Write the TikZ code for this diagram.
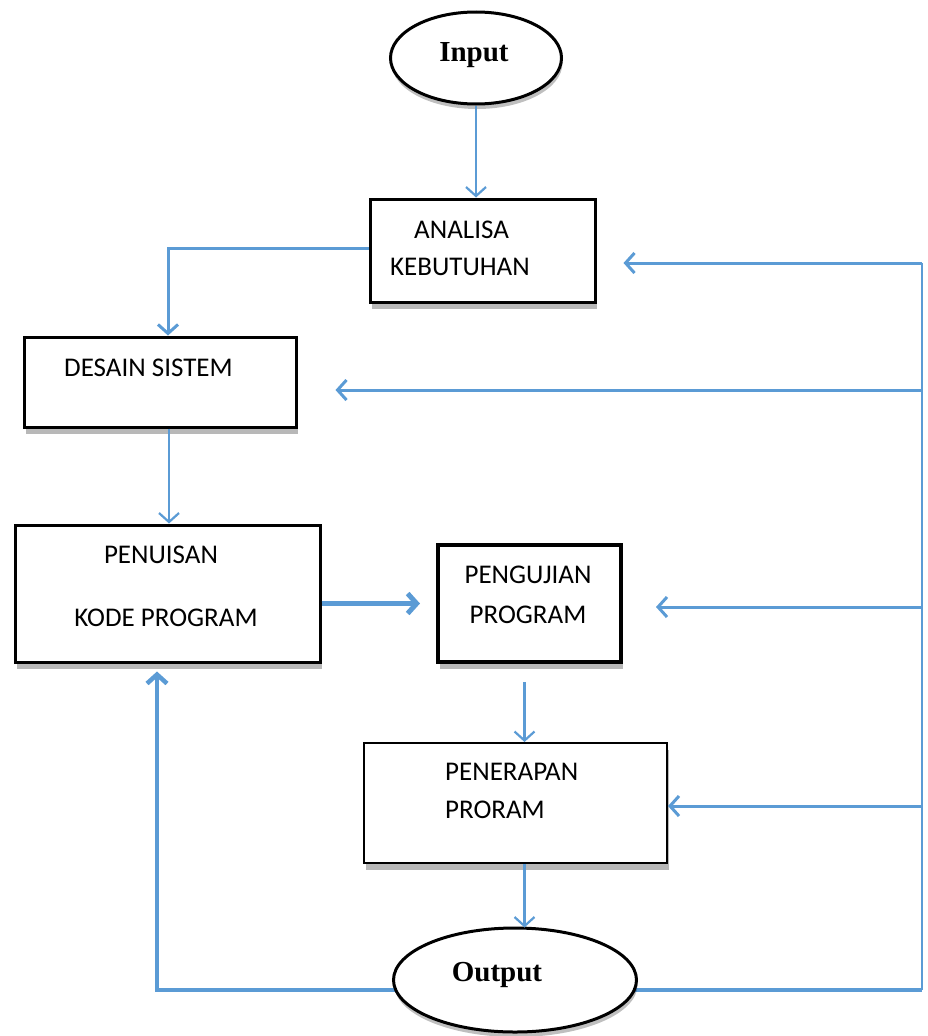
\documentclass[tikz,border=0pt]{standalone}
\usepackage{fontspec}
\setmainfont{Carlito}
\newfontfamily\serifbold{Liberation Serif}
\usetikzlibrary{arrows.meta,shapes.geometric,shadows,backgrounds}
\definecolor{flowblue}{RGB}{91,155,213}
\begin{document}
\begin{tikzpicture}[x=1pt,y=-1pt,
  boxtext/.style={inner sep=0pt,font=\fontsize{27}{30}\selectfont},
  termtext/.style={inner sep=0pt,font=\serifbold\bfseries\fontsize{29}{32}\selectfont},
  procbox/.style={draw=black,line width=3pt,fill=white,rectangle,inner sep=0pt,
     drop shadow={shadow xshift=2pt,shadow yshift=-7pt,opacity=0.28,fill=black}},
  termnode/.style={draw=black,line width=3pt,fill=white,ellipse,inner sep=0pt,
     drop shadow={shadow xshift=1pt,shadow yshift=-5pt,opacity=0.25,fill=black}},
  tip/.style={-{Straight Barb[length=9pt,width=20pt]}},
  arr/.style={draw=flowblue,line width=2.2pt,tip},
  midarr/.style={draw=flowblue,line width=3pt,tip},
  thickarr/.style={draw=flowblue,line width=5pt,tip},
  loopline/.style={draw=flowblue,line width=4.5pt},
  sideline/.style={draw=flowblue,line width=2.5pt}
]
\useasboundingbox (0,0) rectangle (928,1036);

% terminals
\node[termnode,minimum width=171pt,minimum height=92pt] (in) at (476,58) {};
\node[termtext] (intext) at (474,55) {Input};

% process boxes
\node[procbox,minimum width=225pt,minimum height=103pt] (ana) at (482.5,250.5) {};
\node[procbox,minimum width=272pt,minimum height=90pt] (des) at (160,382) {};
\node[procbox,minimum width=305pt,minimum height=137pt] (pen) at (167.5,593.5) {};
\node[procbox,line width=4pt,minimum width=183pt,minimum height=117pt] (uji) at (529.5,603.5) {};
\node[procbox,line width=2pt,minimum width=303pt,minimum height=120pt] (ter) at (515.5,803) {};

\node[termnode,minimum width=243pt,minimum height=104pt] (out) at (515,980) {};
\node[termtext] (outtext) at (497,975) {Output};

% texts
\node[boxtext,anchor=west] (t1) at (414,230) {ANALISA};
\node[boxtext,anchor=west] (t2) at (390,267) {KEBUTUHAN};
\node[boxtext,anchor=west] (t3) at (64,368) {DESAIN SISTEM};
\node[boxtext] (t4) at (161,555) {PENUISAN};
\node[boxtext] (t5) at (166,618) {KODE PROGRAM};
\node[boxtext] (t6) at (528,575) {PENGUJIAN};
\node[boxtext] (t7) at (528,615) {PROGRAM};
\node[boxtext,anchor=west] (t8) at (445,772) {PENERAPAN};
\node[boxtext,anchor=west] (t9) at (445,810) {PRORAM};

% right-side feedback coordinates
\coordinate (r1) at (922,263);
\coordinate (r2) at (922,390);
\coordinate (r3) at (922,607);
\coordinate (r4) at (922,806);
\coordinate (r5) at (922,990);
\coordinate (l1) at (157,990);

% loop lines behind the output ellipse
\begin{scope}[on background layer]
  \draw[loopline] (out.center |- r5) -- (r5);
  \draw[sideline] (r5) -- (r1);
  \draw[loopline,tip,shorten >=8pt] (out.center |- l1) -- (l1) -- (l1 |- pen.south);
\end{scope}

% main flow
\draw[arr] (in.south) -- (in.south |- ana.north);
\draw[midarr] ([yshift=2pt]ana.west) -| ([xshift=8pt]des.north);
\draw[arr] ([xshift=9pt]des.south) -- ([xshift=9pt]des.south |- pen.north);
\draw[thickarr,shorten >=16pt] (pen.east |- uji.west) -- (uji.west);
\draw[arr,shorten <=18pt] ([xshift=-5pt]uji.south) -- ([xshift=-5pt]uji.south |- ter.north);
\draw[arr] ([xshift=9pt]ter.south) -- ([xshift=9pt,yshift=-1pt]ter.south |- out.north);

% feedback arrows from the right
\draw[midarr,shorten >=27pt] (r1) -- (r1 -| ana.east);
\draw[midarr,shorten >=38pt] (r2) -- (r2 -| des.east);
\draw[midarr,shorten >=33pt] (r3) -- (r3 -| uji.east);
\draw[midarr] (r4) -- (r4 -| ter.east);
\end{tikzpicture}
\end{document}
